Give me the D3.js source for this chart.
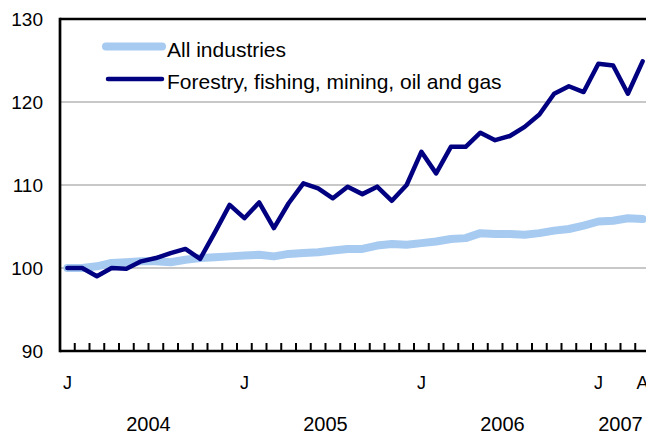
<!DOCTYPE html>
<html>
<head>
<meta charset="utf-8">
<script src="https://cdn.jsdelivr.net/npm/d3@7"></script>
<style>
html,body{margin:0;padding:0;background:#fff;}
svg{display:block;}
text{font-family:"Liberation Sans",Arial,sans-serif;fill:#000;}
</style>
</head>
<body>
<svg id="chart" width="646" height="435"></svg>
<script>
// Monthly index, Jan 2004 = 100, Jan 2004 .. Apr 2007
const months = ["J","F","M","A","M","J","J","A","S","O","N","D",
                "J","F","M","A","M","J","J","A","S","O","N","D",
                "J","F","M","A","M","J","J","A","S","O","N","D",
                "J","F","M","A"];
const years = ["2004","2005","2006","2007"];
const monthLabels = {0:"J",12:"J",24:"J",36:"J",39:"A"};
const yTicks = [90,100,110,120,130];
const seriesNames = ["All industries","Forestry, fishing, mining, oil and gas"];
const allIndustries = [100.0,100.0,100.2,100.6,100.7,100.8,100.8,100.7,101.0,101.2,
                       101.3,101.4,101.5,101.6,101.4,101.7,101.8,101.9,102.1,102.3,
                       102.3,102.7,102.9,102.8,103.0,103.2,103.5,103.6,104.2,104.1,
                       104.1,104.0,104.2,104.5,104.7,105.1,105.6,105.7,106.0,105.9];
const forestry = [100.0,100.0,99.0,100.0,99.9,100.8,101.2,101.8,102.3,101.1,
                  104.3,107.6,106.0,107.9,104.8,107.8,110.2,109.6,108.4,109.8,
                  108.9,109.8,108.1,110.0,114.0,111.4,114.6,114.6,116.3,115.4,
                  115.9,117.0,118.5,121.0,121.9,121.2,124.6,124.4,121.0,124.9];

const svg = d3.select("#chart");
const L = 60, R = 650, T = 19, B = 351;
const x = d3.scaleLinear().domain([0, months.length]).range([L, R]);
const y = d3.scaleLinear().domain([90, 130]).range([B, T]);

// gridlines
svg.append("g").selectAll("line").data(yTicks.filter(v => v > 90 && v < 130)).join("line")
  .attr("x1", L).attr("x2", 646).attr("y1", d => y(d)).attr("y2", d => y(d))
  .attr("stroke", "#c8c8c8").attr("stroke-width", 2);

// y labels
svg.append("g").selectAll("text").data(yTicks).join("text")
  .attr("x", 43).attr("y", d => y(d)).attr("dy", "0.36em")
  .attr("text-anchor", "end").attr("font-size", 19).text(d => d);

// lines
const line = d3.line().x((d, i) => x(i + 0.5)).y(d => y(d));
svg.append("path").datum(allIndustries).attr("d", line)
  .attr("fill", "none").attr("stroke", "#a6caf0").attr("stroke-width", 8)
  .attr("stroke-linejoin", "round").attr("stroke-linecap", "round");
svg.append("path").datum(forestry).attr("d", line)
  .attr("fill", "none").attr("stroke", "#000080").attr("stroke-width", 4.5)
  .attr("stroke-linejoin", "round").attr("stroke-linecap", "round");

// axes frame
svg.append("line").attr("x1", L).attr("x2", 646).attr("y1", T).attr("y2", T)
  .attr("stroke", "#000").attr("stroke-width", 2.5);
svg.append("line").attr("x1", L).attr("x2", L).attr("y1", T - 1.25).attr("y2", B + 1.25)
  .attr("stroke", "#000").attr("stroke-width", 2.7);
svg.append("line").attr("x1", L).attr("x2", 646).attr("y1", B).attr("y2", B)
  .attr("stroke", "#000").attr("stroke-width", 2.7);

// month ticks
svg.append("g").selectAll("line").data(d3.range(1, months.length + 1)).join("line")
  .attr("x1", d => x(d)).attr("x2", d => x(d)).attr("y1", B).attr("y2", B - 8)
  .attr("stroke", "#000").attr("stroke-width", 2);

// month labels
svg.append("g").selectAll("text").data(Object.keys(monthLabels).map(Number)).join("text")
  .attr("x", d => x(d + 0.5)).attr("y", 389).attr("text-anchor", "middle")
  .attr("font-size", 18).text(d => monthLabels[d]);

// year labels
svg.append("g").selectAll("text").data(years).join("text")
  .attr("x", (d, i) => (x(i * 12) + x(Math.min((i + 1) * 12, months.length))) / 2)
  .attr("y", 431).attr("text-anchor", "middle").attr("font-size", 20).text(d => d);

// legend
const leg = [{name: seriesNames[0], color: "#a6caf0", w: 8, y: 46.5, x1: 106},
             {name: seriesNames[1], color: "#000080", w: 4.5, y: 79, x1: 108}];
const lg = svg.append("g");
leg.forEach(d => {
  lg.append("line").attr("x1", d.x1).attr("x2", 162).attr("y1", d.y).attr("y2", d.y)
    .attr("stroke", d.color).attr("stroke-width", d.w).attr("stroke-linecap", "round");
  lg.append("text").attr("x", 167).attr("y", d.y + 10).attr("font-size", 21).text(d.name);
});
</script>
</body>
</html>
